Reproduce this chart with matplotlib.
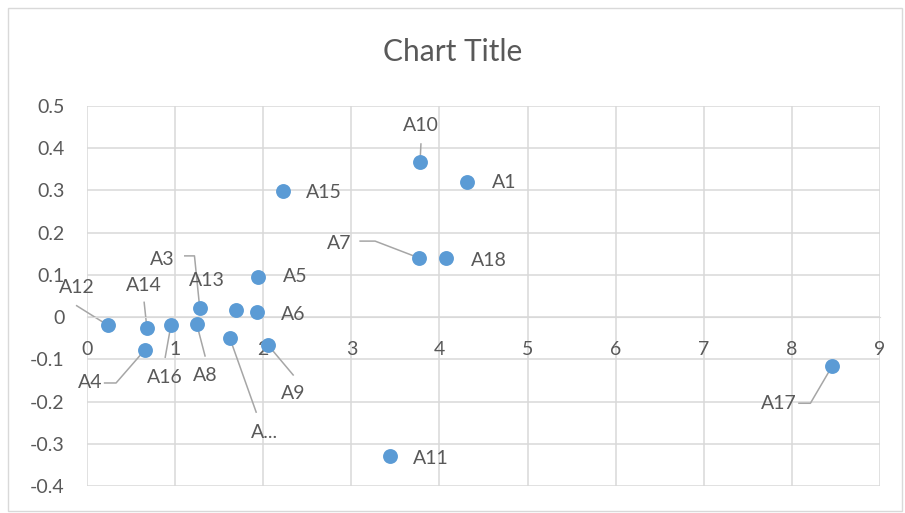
import matplotlib.pyplot as plt
from matplotlib.patches import Rectangle

plt.rcParams['font.family'] = ['Lato', 'DejaVu Sans']

# data
names = ['A1', 'A2', 'A3', 'A4', 'A5', 'A6', 'A7', 'A8', 'A9', 'A10',
         'A11', 'A12', 'A13', 'A14', 'A15', 'A16', 'A17', 'A18']
shown = ['A1', 'A...', 'A3', 'A4', 'A5', 'A6', 'A7', 'A8', 'A9', 'A10',
         'A11', 'A12', 'A13', 'A14', 'A15', 'A16', 'A17', 'A18']
x_vals = [4.31, 1.62, 1.28, 0.66, 1.94, 1.93, 3.77, 1.245, 2.05, 3.78,
          3.44, 0.235, 1.69, 0.68, 2.22, 0.953, 8.46, 4.07]
y_vals = [0.320, -0.049, 0.021, -0.077, 0.095, 0.012, 0.140, -0.016, -0.065, 0.367,
          -0.330, -0.019, 0.017, -0.026, 0.298, -0.019, -0.115, 0.140]

# label placement (text position, alignment, leader start points)
label_pos = {
    'A1': (4.60, 0.318, 'left', None),
    'A2': (2.02, -0.273, 'center', [(1.92, -0.225)]),
    'A3': (0.99, 0.137, 'right', [(1.11, 0.145), (1.22, 0.145)]),
    'A4': (0.18, -0.156, 'right', [(0.20, -0.156), (0.33, -0.156)]),
    'A5': (2.22, 0.095, 'left', None),
    'A6': (2.20, 0.007, 'left', None),
    'A7': (3.00, 0.175, 'right', [(3.10, 0.180), (3.27, 0.180)]),
    'A8': (1.34, -0.139, 'center', [(1.34, -0.092)]),
    'A9': (2.34, -0.182, 'center', [(2.34, -0.137)]),
    'A10': (3.79, 0.453, 'center', [(3.79, 0.410)]),
    'A11': (3.70, -0.334, 'left', None),
    'A12': (-0.117, 0.069, 'center', [(-0.117, 0.027)]),
    'A13': (1.36, 0.086, 'center', None),
    'A14': (0.647, 0.076, 'center', [(0.649, 0.035)]),
    'A15': (2.48, 0.296, 'left', None),
    'A16': (0.885, -0.142, 'center', [(0.888, -0.095)]),
    'A17': (8.05, -0.204, 'right', [(8.08, -0.204), (8.21, -0.204)]),
    'A18': (4.36, 0.135, 'left', None),
}

text_color = '#595959'
grid_color = '#D9D9D9'

fig = plt.figure(figsize=(9.05, 5.13), dpi=100)
ax = fig.add_axes([0.0961, 0.0526, 0.8763, 0.7408])

ax.scatter(x_vals, y_vals, s=115, color='#5B9BD5', zorder=3, linewidths=0)

for name, label, xv, yv in zip(names, shown, x_vals, y_vals):
    tx, ty, ha, leader = label_pos[name]
    ax.text(tx, ty, label, ha=ha, va='center', fontsize=14, color=text_color,
            clip_on=False, zorder=4)
    if leader:
        lx = [p[0] for p in leader] + [xv]
        ly = [p[1] for p in leader] + [yv]
        ax.plot(lx, ly, color='#A6A6A6', lw=1.1, zorder=2, clip_on=False)

ax.set_xlim(0, 9)
ax.set_ylim(-0.4, 0.5)
ax.set_xticks(range(0, 10))
ax.set_yticks([-0.4, -0.3, -0.2, -0.1, 0, 0.1, 0.2, 0.3, 0.4, 0.5])
ax.set_yticklabels(['-0.4', '-0.3', '-0.2', '-0.1', '0', '0.1', '0.2', '0.3', '0.4', '0.5'])
ax.grid(True, color=grid_color, lw=1.1)
ax.set_axisbelow(True)
for side in ['top', 'right', 'left']:
    ax.spines[side].set_visible(False)
ax.spines['bottom'].set_position(('data', 0))
ax.spines['bottom'].set_color(grid_color)
ax.tick_params(axis='both', length=0, labelsize=14, labelcolor=text_color)
ax.tick_params(axis='x', pad=17)
ax.tick_params(axis='y', pad=16)

fig.text(0.5, 0.898, 'Chart Title', ha='center', va='center', fontsize=21.5, color=text_color)

fig.patches.append(Rectangle((0.009, 0.004), 0.988, 0.98, transform=fig.transFigure,
                             fill=False, edgecolor=grid_color, lw=1))

fig.savefig('out.png', dpi=100)
